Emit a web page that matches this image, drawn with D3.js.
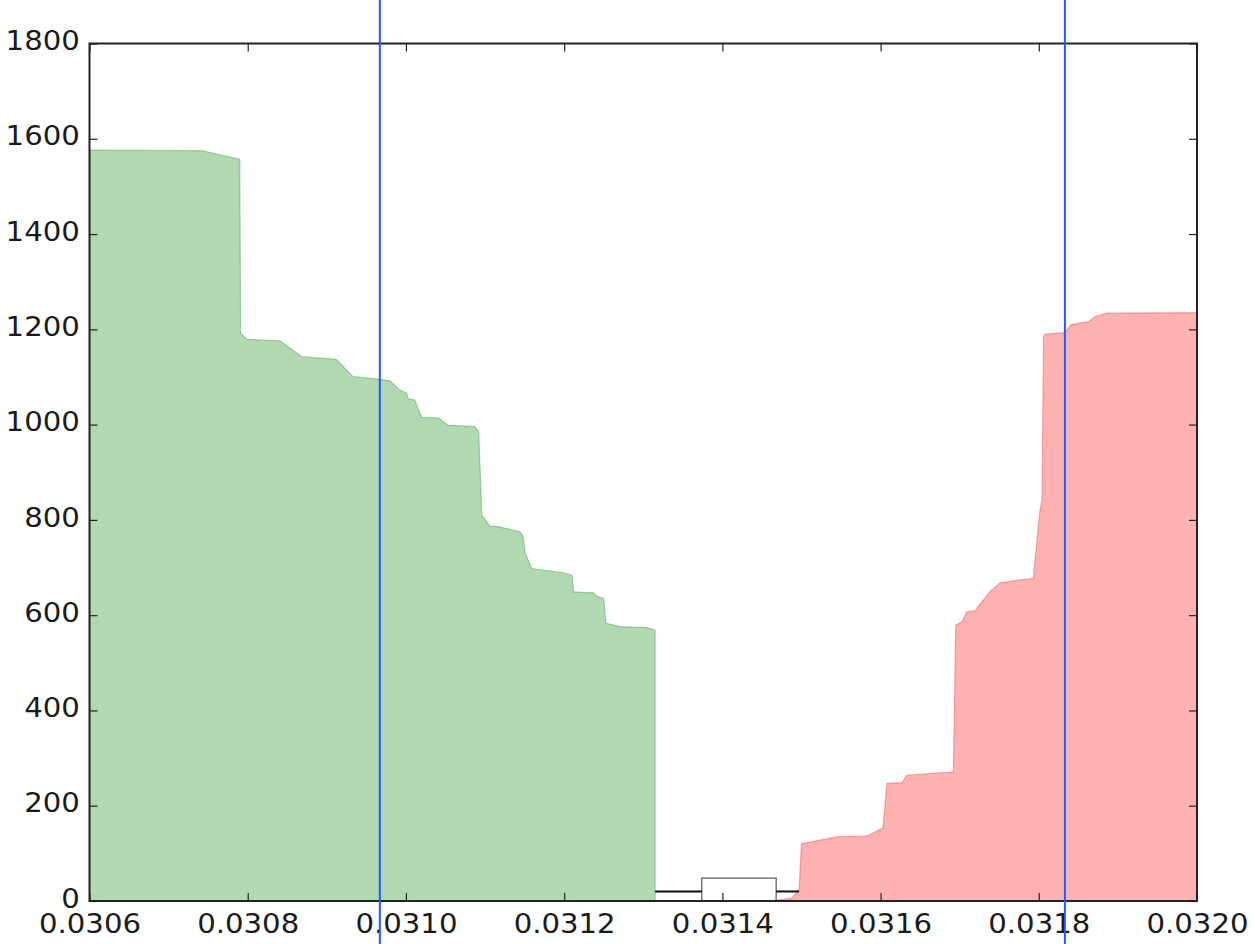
<!DOCTYPE html>
<meta charset="utf-8">
<style>
body { margin: 0; background: #fff; }
text { font-family: "DejaVu Sans", sans-serif; font-size: 27px; fill: #1a1a1a; }
</style>
<svg width="1255" height="944"></svg>
<script src="https://cdn.jsdelivr.net/npm/d3@7/dist/d3.min.js"></script>
<script>

// bid side (green), cumulative depth
var bidPrice = [0.030600, 0.030742, 0.030790, 0.030791, 0.030799, 0.030841, 0.030868, 0.030912,
    0.030933, 0.030967, 0.030980, 0.030992, 0.031001, 0.031003, 0.031011, 0.031020, 0.031041,
    0.031053, 0.031087, 0.031092, 0.031096, 0.031106, 0.031116, 0.031132, 0.031144, 0.031148,
    0.031151, 0.031159, 0.031199, 0.031210, 0.031212, 0.031237, 0.031241, 0.031250, 0.031253,
    0.031271, 0.031304, 0.031315, 0.031315];
var bidDepth = [1576, 1575, 1557, 1192, 1179, 1176, 1143, 1137,
    1101, 1095, 1092, 1073, 1066, 1054, 1052, 1015, 1014,
    999, 996, 985, 810, 787, 786, 780, 775, 766,
    730, 698, 689, 684, 649, 647, 640, 635, 583,
    576, 574, 569, 0];

// ask side (red), cumulative depth
var askPrice = [0.031458, 0.031488, 0.031497, 0.031500, 0.031545, 0.031582, 0.031603, 0.031608,
    0.031627, 0.031633, 0.031692, 0.031695, 0.031703, 0.031709, 0.031719, 0.031738, 0.031751,
    0.031776, 0.031793, 0.031801, 0.031804, 0.031806, 0.031808, 0.031833, 0.031840, 0.031850,
    0.031863, 0.031871, 0.031886, 0.032000];
var askDepth = [0, 6, 25, 120, 135, 136, 153, 247,
    248, 264, 271, 579, 586, 607, 609, 649, 668,
    674, 677, 814, 842, 1185, 1190, 1193, 1209, 1213,
    1216, 1227, 1234, 1235];

// spread box: whisker low, box low, box high, whisker high
var spread = [0.031315, 0.031374, 0.031468, 0.031497];
var spreadPos = 20, spreadHalf = 28;

// vertical markers
var markers = [0.030967, 0.031833];

var xTicks = [0.0306, 0.0308, 0.0310, 0.0312, 0.0314, 0.0316, 0.0318, 0.0320];
var yTicks = [0, 200, 400, 600, 800, 1000, 1200, 1400, 1600, 1800];

var svg = d3.select("svg"),
    pLeft = 89.5, pRight = 1197, pTop = 43.5, pBottom = 901;

var x = d3.scaleLinear().domain([0.0306, 0.0320]).range([pLeft, pRight]);
var y = d3.scaleLinear().domain([0, 1800]).range([pBottom, pTop]);

svg.append("clipPath").attr("id", "plot")
  .append("rect")
    .attr("x", pLeft).attr("y", pTop)
    .attr("width", pRight - pLeft).attr("height", pBottom - pTop);

var g = svg.append("g").attr("clip-path", "url(#plot)");

var area = d3.area()
    .x(function(d) { return x(d[0]); })
    .y0(y(0))
    .y1(function(d) { return y(d[1]); });

g.append("path")
    .datum(d3.zip(bidPrice, bidDepth))
    .attr("d", area)
    .attr("fill", "green").attr("fill-opacity", 0.3)
    .attr("stroke", "green").attr("stroke-opacity", 0.3).attr("stroke-width", 1.2);

g.append("path")
    .datum(d3.zip(askPrice, askDepth))
    .attr("d", area)
    .attr("fill", "red").attr("fill-opacity", 0.3)
    .attr("stroke", "red").attr("stroke-opacity", 0.3).attr("stroke-width", 1.2);

// horizontal box plot of the spread
g.append("rect")
    .attr("x", x(spread[1]))
    .attr("y", y(spreadPos + spreadHalf))
    .attr("width", x(spread[2]) - x(spread[1]))
    .attr("height", y(spreadPos - spreadHalf) - y(spreadPos + spreadHalf))
    .attr("fill", "none").attr("stroke", "#555").attr("stroke-width", 1.2);

g.selectAll(".whisker")
    .data([[spread[0], spread[1]], [spread[2], spread[3]]])
  .enter().append("line")
    .attr("x1", function(d) { return x(d[0]); })
    .attr("x2", function(d) { return x(d[1]); })
    .attr("y1", y(spreadPos)).attr("y2", y(spreadPos))
    .attr("stroke", "#111").attr("stroke-width", 2);

// axes with inward ticks on all sides; labels a bit wide like the original
function style(a) {
  a.select(".domain").remove();
  a.selectAll(".tick line").attr("stroke", "#222").attr("stroke-width", 1.2);
  a.selectAll(".tick text")
      .attr("fill", "#1a1a1a")
      .attr("transform", "scale(1.08,1)")
      .style("font-size", "27px");
}

svg.append("g")
    .attr("transform", "translate(0," + pBottom + ")")
    .call(d3.axisBottom(x).tickValues(xTicks).tickFormat(d3.format(".4f")).tickSizeInner(-8).tickPadding(13))
    .call(style);

svg.append("g")
    .attr("transform", "translate(0," + pTop + ")")
    .call(d3.axisTop(x).tickValues(xTicks).tickFormat("").tickSizeInner(-8))
    .call(style);

svg.append("g")
    .attr("transform", "translate(" + pLeft + ",0)")
    .call(d3.axisLeft(y).tickValues(yTicks).tickFormat(d3.format("d")).tickSizeInner(-8).tickPadding(9))
    .call(style)
  .selectAll(".tick text")
    .attr("dy", "0.23em");

svg.append("g")
    .attr("transform", "translate(" + pRight + ",0)")
    .call(d3.axisRight(y).tickValues(yTicks).tickFormat("").tickSizeInner(-8))
    .call(style);

svg.append("rect")
    .attr("x", pLeft).attr("y", pTop)
    .attr("width", pRight - pLeft).attr("height", pBottom - pTop)
    .attr("fill", "none").attr("stroke", "#222").attr("stroke-width", 2);

svg.selectAll(".marker")
    .data(markers)
  .enter().append("line")
    .attr("x1", function(d) { return x(d); })
    .attr("x2", function(d) { return x(d); })
    .attr("y1", 0).attr("y2", 944)
    .attr("stroke", "#1f5cff").attr("stroke-width", 2);

</script>
